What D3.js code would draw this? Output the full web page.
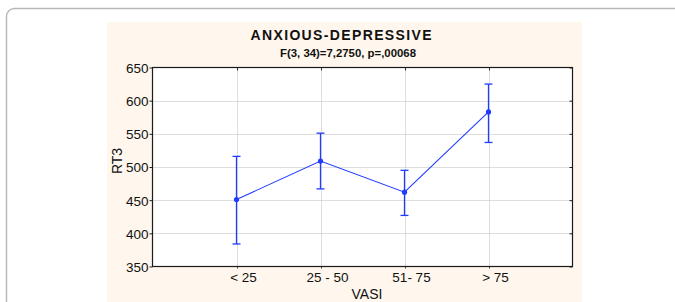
<!DOCTYPE html>
<html><head><meta charset="utf-8">
<script src="https://cdn.jsdelivr.net/npm/d3@7"></script>
<style>body{margin:0;background:#fff;}svg{display:block;font-family:"Liberation Sans",Arial,sans-serif;}</style>
</head><body>
<script>
const categories = ["< 25", "25 - 50", "51- 75", "> 75"];
const means = [451, 509, 462, 583];
const upper = [516, 551, 495, 625];
const lower = [384, 467, 427, 537];
const yTicks = [350, 400, 450, 500, 550, 600, 650];
const title = "ANXIOUS-DEPRESSIVE";
const subtitle = "F(3, 34)=7,2750, p=,00068";
const xTitle = "VASI", yTitle = "RT3";

const W = 675, H = 302;
const svg = d3.select("body").append("svg").attr("width", W).attr("height", H);

// outer frame and panel
svg.append("rect").attr("x", 6.5).attr("y", 8.5).attr("width", 700).attr("height", 320)
  .attr("rx", 8).attr("fill", "#fff").attr("stroke", "#b8b8b8").attr("stroke-width", 1.5);
svg.append("rect").attr("x", 107).attr("y", 22).attr("width", 475).attr("height", 290).attr("fill", "#fff7ed");

const L = 152.5, R = 572.5, T = 67.5, B = 266.5;
const x = d3.scaleLinear().domain([0, categories.length + 1]).range([L, R]);
const y = d3.scaleLinear().domain([350, 650]).range([B, T]);
const blue = "#1f3cff";

svg.append("rect").attr("x", L).attr("y", T).attr("width", R - L).attr("height", B - T).attr("fill", "#fff");

// grid
const g = svg.append("g");
g.selectAll(".hg").data(yTicks.slice(1, -1)).join("line")
  .attr("x1", L).attr("x2", R).attr("y1", d => Math.round(y(d)) + 0.5).attr("y2", d => Math.round(y(d)) + 0.5)
  .attr("stroke", "#bdbdbd").attr("stroke-dasharray", "1,1");
g.selectAll(".vg").data(categories).join("line")
  .attr("x1", (d, i) => Math.round(x(i + 1)) + 0.5).attr("x2", (d, i) => Math.round(x(i + 1)) + 0.5)
  .attr("y1", T).attr("y2", B)
  .attr("stroke", "#bdbdbd").attr("stroke-dasharray", "1,1");

// axes
const yAxis = d3.axisLeft(y).tickValues(yTicks).tickSize(3).tickPadding(1);
const ya = svg.append("g").attr("transform", `translate(${L},0)`).call(yAxis);
ya.select(".domain").remove();
ya.selectAll("line").attr("stroke", "#222");
ya.selectAll("text").attr("font-size", 13.5).attr("fill", "#111").attr("dy", "0.36em");

const yr = svg.append("g").attr("transform", `translate(${R},0)`).call(d3.axisLeft(y).tickValues(yTicks).tickSize(-0).tickFormat(""));
yr.select(".domain").remove();
yr.selectAll("line").attr("x2", -3).attr("stroke", "#222");

const xAxis = d3.axisBottom(x).tickValues(categories.map((d, i) => i + 1)).tickFormat((d) => categories[d - 1]).tickSize(2).tickPadding(3);
const xa = svg.append("g").attr("transform", `translate(0,${B})`).call(xAxis);
xa.select(".domain").remove();
xa.selectAll("line").attr("stroke", "#444").attr("transform", "translate(0.5,0)");
xa.selectAll("text").attr("font-size", 13.5).attr("fill", "#111").attr("dx", 6.5).attr("dy", "0.78em");

const xt = svg.append("g").attr("transform", `translate(0,${T})`).call(d3.axisBottom(x).tickValues([1,2,3,4]).tickSize(3).tickFormat(""));
xt.select(".domain").remove();
xt.selectAll("line").attr("stroke", "#333").attr("transform", "translate(0.5,0)");

svg.append("rect").attr("x", L).attr("y", T).attr("width", R - L).attr("height", B - T)
  .attr("fill", "none").attr("stroke", "#1a1a1a").attr("stroke-width", 1.2);

// error bars
const eb = svg.append("g").attr("stroke", blue).attr("stroke-width", 1.3);
categories.forEach((c, i) => {
  const cx = x(i + 1);
  eb.append("line").attr("x1", cx).attr("x2", cx).attr("y1", y(upper[i])).attr("y2", y(lower[i]));
  eb.append("line").attr("x1", cx - 4).attr("x2", cx + 4).attr("y1", y(upper[i])).attr("y2", y(upper[i]));
  eb.append("line").attr("x1", cx - 4).attr("x2", cx + 4).attr("y1", y(lower[i])).attr("y2", y(lower[i]));
});

const line = d3.line().x((d, i) => x(i + 1)).y(d => y(d));
svg.append("path").attr("d", line(means)).attr("fill", "none").attr("stroke", blue).attr("stroke-width", 1.1);
svg.selectAll(".pt").data(means).join("circle").attr("cx", (d, i) => x(i + 1)).attr("cy", d => y(d)).attr("r", 2.6).attr("fill", blue);

// titles
svg.append("text").attr("x", 341).attr("y", 40).attr("text-anchor", "middle").attr("font-weight", "bold")
  .attr("font-size", 14).attr("textLength", 181).attr("lengthAdjust", "spacing").attr("fill", "#111").text(title);
svg.append("text").attr("x", 348).attr("y", 56.5).attr("text-anchor", "middle").attr("font-weight", "bold")
  .attr("font-size", 10).attr("textLength", 136).attr("lengthAdjust", "spacingAndGlyphs").attr("fill", "#111").text(subtitle);
svg.append("text").attr("x", 367).attr("y", 299).attr("text-anchor", "middle").attr("font-size", 14).attr("fill", "#111").text(xTitle);
svg.append("text").attr("transform", "translate(122,161) rotate(-90)").attr("text-anchor", "middle").attr("font-size", 14).attr("fill", "#111").text(yTitle);
</script>
</body></html>
